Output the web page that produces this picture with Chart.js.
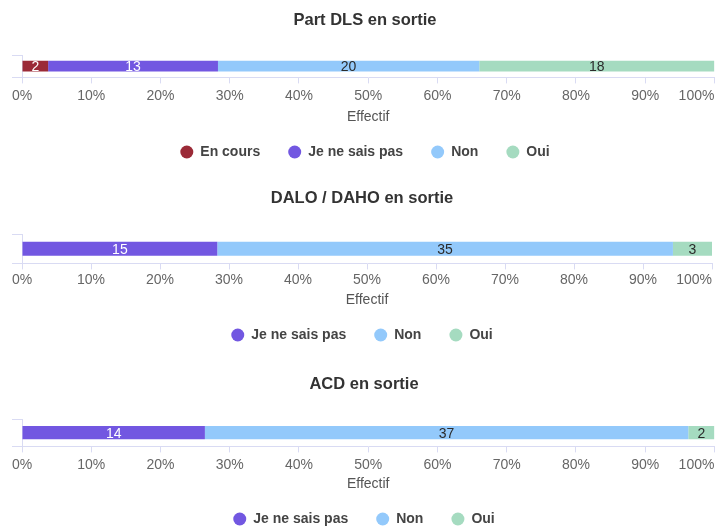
<!DOCTYPE html>
<html lang="fr">
<head>
<meta charset="utf-8">
<title>Situation en sortie</title>
<script src="https://cdn.jsdelivr.net/npm/chart.js@4/dist/chart.umd.min.js"></script>
<style>
  html, body { margin: 0; padding: 0; background: #ffffff; overflow: hidden; }
  body { width: 719px; height: 527px; position: relative; }
  .panel { position: absolute; left: 0; width: 719px; }
  .panel canvas { display: block; }
</style>
</head>
<body>
<div class="panel" id="p1" style="top:0px;height:169px"><canvas id="c1"></canvas></div>
<div class="panel" id="p2" style="top:178px;height:174px"><canvas id="c2"></canvas></div>
<div class="panel" id="p3" style="top:364px;height:172px"><canvas id="c3"></canvas></div>
<script>
// Counts per answer, one small array per chart
const dlsSeries = ['En cours', 'Je ne sais pas', 'Non', 'Oui'];
const dlsValues = [2, 13, 20, 18];

const daloSeries = ['Je ne sais pas', 'Non', 'Oui'];
const daloValues = [15, 35, 3];

const acdSeries = ['Je ne sais pas', 'Non', 'Oui'];
const acdValues = [14, 37, 2];

// Percent ticks shown on the horizontal axis
const percentTicks = [0, 10, 20, 30, 40, 50, 60, 70, 80, 90, 100];

const FONT = "'Liberation Sans', Arial, sans-serif";
const GRID = '#d9dbf3';
const seriesColors = {
  'En cours': '#9b2a37',
  'Je ne sais pas': '#7257e1',
  'Non': '#93c9fb',
  'Oui': '#a5dbc0'
};
const labelInk = {
  'En cours': '#ffffff',
  'Je ne sais pas': '#ffffff',
  'Non': '#2b2b2b',
  'Oui': '#2b2b2b'
};

// Writes each segment's count in the middle of the segment
const segmentLabels = {
  id: 'segmentLabels',
  afterDatasetsDraw(chart) {
    const ctx = chart.ctx;
    ctx.save();
    ctx.font = '14px ' + FONT;
    ctx.textAlign = 'center';
    ctx.textBaseline = 'middle';
    chart.data.datasets.forEach((ds, i) => {
      const meta = chart.getDatasetMeta(i);
      if (meta.hidden) return;
      meta.data.forEach((bar, j) => {
        const v = ds.data[j];
        if (!v) return;
        const p = bar.getProps(['x', 'y', 'base'], true);
        ctx.fillStyle = labelInk[ds.label];
        ctx.fillText(String(v), (p.x + p.base) / 2, p.y + 1);
      });
    });
    ctx.restore();
  }
};

// Keeps the "0%" label centred under its tick while "100%" stays inside
const firstTickCentered = {
  id: 'firstTickCentered',
  beforeDraw(chart) {
    const items = chart.scales.x.getLabelItems();
    if (items.length) items[0].options.textAlign = 'center';
  }
};

function buildChart(canvasId, title, series, values, g) {
  const total = values.reduce((a, b) => a + b, 0);
  const datasets = series.map((name, i) => ({
    label: name,
    data: [values[i]],
    backgroundColor: seriesColors[name],
    borderWidth: 0,
    barPercentage: 0.48,
    categoryPercentage: 1
  }));
  return new Chart(document.getElementById(canvasId), {
    type: 'bar',
    data: { labels: [title], datasets },
    plugins: [segmentLabels, firstTickCentered],
    options: {
      indexAxis: 'y',
      responsive: true,
      maintainAspectRatio: false,
      animation: false,
      layout: { padding: { left: 12, right: g.right, top: 0, bottom: 0 } },
      scales: {
        x: {
          stacked: true,
          min: 0,
          max: total,
          afterBuildTicks(scale) {
            scale.ticks = percentTicks.map(p => ({ value: total * p / 100 }));
          },
          ticks: {
            align: 'inner',
            padding: g.tickPad,
            color: '#666666',
            font: { family: FONT, size: 14 },
            maxRotation: 0,
            callback(value) { return Math.round(value / total * 100) + '%'; }
          },
          grid: { drawOnChartArea: false, color: GRID, tickLength: 6 },
          border: { color: GRID },
          title: {
            display: true,
            text: 'Effectif',
            color: '#555555',
            font: { family: FONT, size: 14 },
            padding: { top: g.effTop, bottom: g.effBottom }
          }
        },
        y: {
          stacked: true,
          ticks: { display: false },
          grid: { drawOnChartArea: false, color: GRID, tickLength: 10, offset: true },
          border: { color: GRID }
        }
      },
      plugins: {
        title: {
          display: true,
          text: title,
          color: '#333333',
          font: { family: FONT, size: 16.5, weight: 'bold' },
          padding: { top: 10.4, bottom: g.titleBottom }
        },
        legend: {
          position: 'bottom',
          labels: {
            usePointStyle: true,
            pointStyle: 'circle',
            boxHeight: 9.2,
            pointStyleWidth: 13,
            padding: 28,
            color: '#444444',
            font: { family: FONT, size: 14, weight: 'bold' }
          }
        },
        tooltip: { enabled: false }
      }
    }
  });
}

buildChart('c1', 'Part DLS en sortie', dlsSeries, dlsValues,
  { right: 1, tickPad: 4.6, effTop: -0.8, effBottom: -8.4, titleBottom: 24.8 });
buildChart('c2', 'DALO / DAHO en sortie', daloSeries, daloValues,
  { right: 7, tickPad: 2.6, effTop: 0.2, effBottom: -8.4, titleBottom: 25.8 });
buildChart('c3', 'ACD en sortie', acdSeries, acdValues,
  { right: 3, tickPad: 4.6, effTop: -2.8, effBottom: -8.4, titleBottom: 24.8 });
</script>
</body>
</html>
